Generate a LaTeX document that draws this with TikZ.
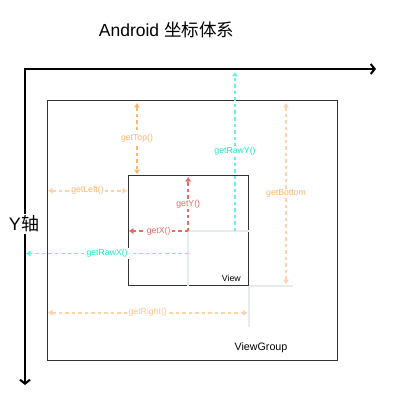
\documentclass[tikz,border=0pt]{standalone}
\usepackage{fontspec}
\setmainfont{Liberation Sans}
\newfontfamily\cjk{Noto Sans CJK SC}
\usetikzlibrary{positioning,arrows.meta}
\definecolor{tangerine}{HTML}{FFB570}
\definecolor{peach}{HTML}{FFD2A8}
\definecolor{peachtext}{HTML}{FFC48C}
\definecolor{coral}{HTML}{EA6B66}
\definecolor{aqua}{HTML}{66F5DF}
\definecolor{aquatext}{HTML}{1EE8C6}
\definecolor{mist}{HTML}{E4ECEF}
\definecolor{frame}{HTML}{333333}
\tikzset{
	every picture/.style={x=1pt, y=-1pt},
	every node/.style = {font=\fontsize{8.7}{10}\selectfont, inner sep = 1pt},
	>={Triangle[width=5.5pt,length=4.5pt]},
	box/.style={draw=frame, line width=1pt, minimum width=#1, inner sep=0},
	axis/.style={line width=2pt, line join=miter, {Straight Barb[length=4pt,width=10pt]}-{Straight Barb[length=4pt,width=10pt]}},
	measure/.style={line width=1.6pt, dash pattern=on 3.5pt off 3pt},
	guide/.style={draw=mist, line width=1.6pt},
	lbl/.style={fill=white}
}
\begin{document}
\begin{tikzpicture}
		\useasboundingbox (0,0) rectangle (400,409);
		\node(title) at (166.5,30) {\fontsize{17.5}{20}\selectfont Android {\cjk 坐标体系}};

		\coordinate(origin) at (25,69);
		\coordinate(xend) at (376,69);
		\coordinate(yend) at (25,385);
		\draw[axis] (xend) -- (origin) -- (yend);
		\node(ylabel)[lbl, inner sep=2pt] at (24,224) {\fontsize{18}{20}\selectfont Y{\cjk 轴}};

		\node(viewgroup)[box=290pt, minimum height=260pt] at (192,230.4) {};
		\node(view)[box=120pt, minimum height=110pt] at (188.2,230.7) {};
		\node(viewname)[anchor=east, font=\fontsize{8.8}{10}\selectfont] at (242,278) {View};
		\node(groupname)[font=\fontsize{10.7}{12}\selectfont] at (261,348) {ViewGroup};

		\draw[guide] (view.center) -- (view.center -| view.east);
		\draw[guide] (view.center) -- (view.center |- view.south);
		\draw[guide] (view.south east) -- ++(44,0);
		\draw[guide] (view.south east) -- ++(0,41);

		\coordinate(topA) at (137,103);
		\coordinate(topB) at (137,174);
		\coordinate(leftA) at (48,190.7);
		\coordinate(leftB) at (127,190.7);
		\coordinate(rawyA) at (235,231);
		\coordinate(rawyB) at (235,72);
		\coordinate(botA) at (286,103);
		\coordinate(botB) at (286,284);
		\coordinate(yA) at (188.2,231);
		\coordinate(yB) at (188.2,177);
		\coordinate(xB) at (129,231);
		\coordinate(rawxA) at (188.2,253.5);
		\coordinate(rawxB) at (26,253.5);
		\coordinate(rightA) at (48,312.7);
		\coordinate(rightB) at (247.5,312.7);

		\draw[measure, tangerine, <->] (topA) -- node[lbl, text=tangerine]{getTop()} (topB);
		\draw[measure, peach, <->] (leftA) -- node[lbl, text=tangerine]{getLeft()} (leftB);
		\draw[measure, aqua, ->] (rawyA) -- node[lbl, text=aquatext]{getRawY()} (rawyB);
		\draw[measure, peach, <->] (botA) -- node[lbl, text=tangerine]{getBottom} (botB);
		\draw[measure, coral, ->] (yA) -- node[lbl, text=coral]{getY()} (yB);
		\draw[measure, coral, ->] (yA) -- node[lbl, text=coral]{getX()} (xB);
		\draw[measure, aqua, ->] (rawxA) -- node[lbl, text=aquatext]{getRawX()} (rawxB);
		\draw[measure, peach, <->] (rightA) -- node[lbl, text=peachtext]{getRight()} (rightB);
\end{tikzpicture}
\end{document}
